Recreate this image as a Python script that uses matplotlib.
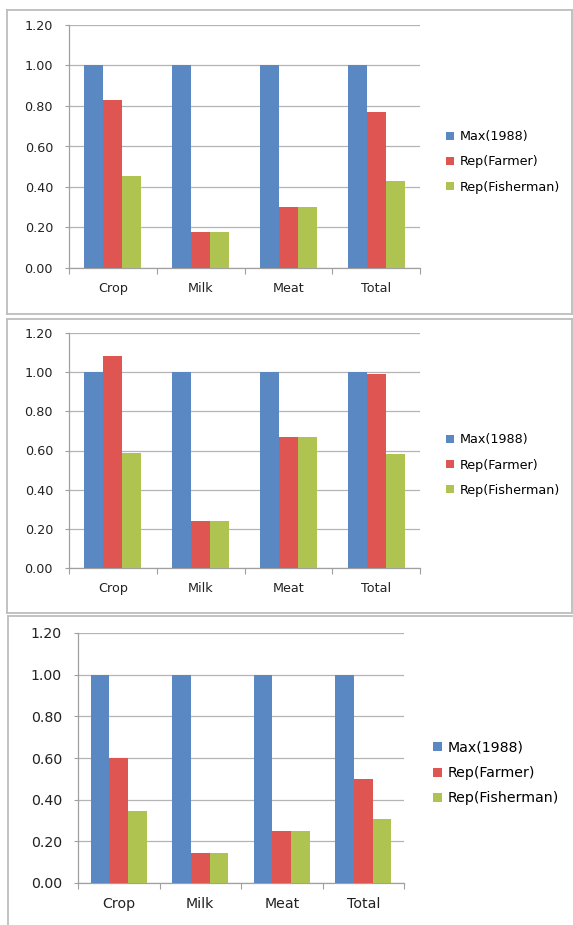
import matplotlib
matplotlib.use("Agg")
import matplotlib.pyplot as plt
from matplotlib.lines import Line2D
import numpy as np

categories = ["Crop", "Milk", "Meat", "Total"]
series_names = ["Max(1988)", "Rep(Farmer)", "Rep(Fisherman)"]

p1_max = [1.00, 1.00, 1.00, 1.00]
p1_farmer = [0.83, 0.18, 0.30, 0.77]
p1_fisherman = [0.455, 0.18, 0.30, 0.43]

p2_max = [1.00, 1.00, 1.00, 1.00]
p2_farmer = [1.08, 0.24, 0.67, 0.99]
p2_fisherman = [0.585, 0.24, 0.67, 0.58]

p3_max = [1.00, 1.00, 1.00, 1.00]
p3_farmer = [0.60, 0.145, 0.25, 0.50]
p3_fisherman = [0.345, 0.145, 0.25, 0.305]

y_ticks = [0.0, 0.2, 0.4, 0.6, 0.8, 1.0, 1.2]

colors = ["#5A88C2", "#DE5551", "#AEC350"]

W, H = 573, 925
fig = plt.figure(figsize=(W / 100, H / 100), dpi=100)


def px_rect(left, right, top, bottom):
    return [left / W, 1 - bottom / H, (right - left) / W, (bottom - top) / H]


def border(x0, x1, y0, y1, sides=("l", "r", "t", "b"), color="#BDBDBD"):
    X0, X1 = x0 / W, x1 / W
    Y0, Y1 = 1 - y0 / H, 1 - y1 / H
    segs = {"l": ([X0, X0], [Y0, Y1]), "r": ([X1, X1], [Y0, Y1]),
            "t": ([X0, X1], [Y0, Y0]), "b": ([X0, X1], [Y1, Y1])}
    for s in sides:
        xs, ys = segs[s]
        fig.add_artist(Line2D(xs, ys, color=color, lw=1.3, transform=fig.transFigure))


def panel(rect, series, fs, bar_w, leg_x, leg_y, labelspacing):
    ax = fig.add_axes(rect)
    x = np.arange(len(categories))
    handles = []
    for j, vals in enumerate(series):
        b = ax.bar(x + (j - 1) * bar_w, vals, width=bar_w, color=colors[j],
                   label=series_names[j], zorder=3, linewidth=0)
        handles.append(b)
    ax.set_xlim(-0.5, len(categories) - 0.5)
    ax.set_ylim(0, 1.2)
    ax.set_yticks(y_ticks)
    ax.set_yticklabels([f"{v:.2f}" for v in y_ticks], fontsize=fs, color="#222222")
    ax.yaxis.grid(True, color="#B4B4B4", lw=0.9, zorder=0)
    ax.set_axisbelow(True)
    ax.tick_params(axis="y", length=3, color="#A0A0A0", pad=8.5)
    ax.set_xticks(np.arange(-0.5, len(categories), 1.0))
    ax.set_xticklabels([])
    ax.set_xticks(x, minor=True)
    ax.set_xticklabels(categories, minor=True, fontsize=fs, color="#222222")
    ax.tick_params(axis="x", which="major", length=4, color="#A0A0A0")
    ax.tick_params(axis="x", which="minor", length=0, pad=10)
    for s in ("top", "right"):
        ax.spines[s].set_visible(False)
    for s in ("left", "bottom"):
        ax.spines[s].set_color("#A0A0A0")
        ax.spines[s].set_linewidth(0.9)
    fig.legend(handles=handles, loc="center left",
               bbox_to_anchor=(leg_x / W, 1 - leg_y / H),
               bbox_transform=fig.transFigure, frameon=False, fontsize=fs,
               handlelength=0.6, handleheight=0.6, handletextpad=0.45,
               labelspacing=labelspacing, borderpad=0, borderaxespad=0)
    return ax


panel(px_rect(69, 420, 25, 268), [p1_max, p1_farmer, p1_fisherman],
      9.2, 0.216, 446, 162, 0.95)
panel(px_rect(69, 420, 333, 568), [p2_max, p2_farmer, p2_fisherman],
      9.2, 0.216, 446, 465, 0.95)
panel(px_rect(78, 404, 633, 883), [p3_max, p3_farmer, p3_fisherman],
      10.2, 0.227, 433, 773, 0.8)

border(7, 572, 10, 314)
border(7, 572, 319, 613)
border(8, 572, 616, 930, sides=("l", "t"))

fig.savefig("out.png", dpi=100)
